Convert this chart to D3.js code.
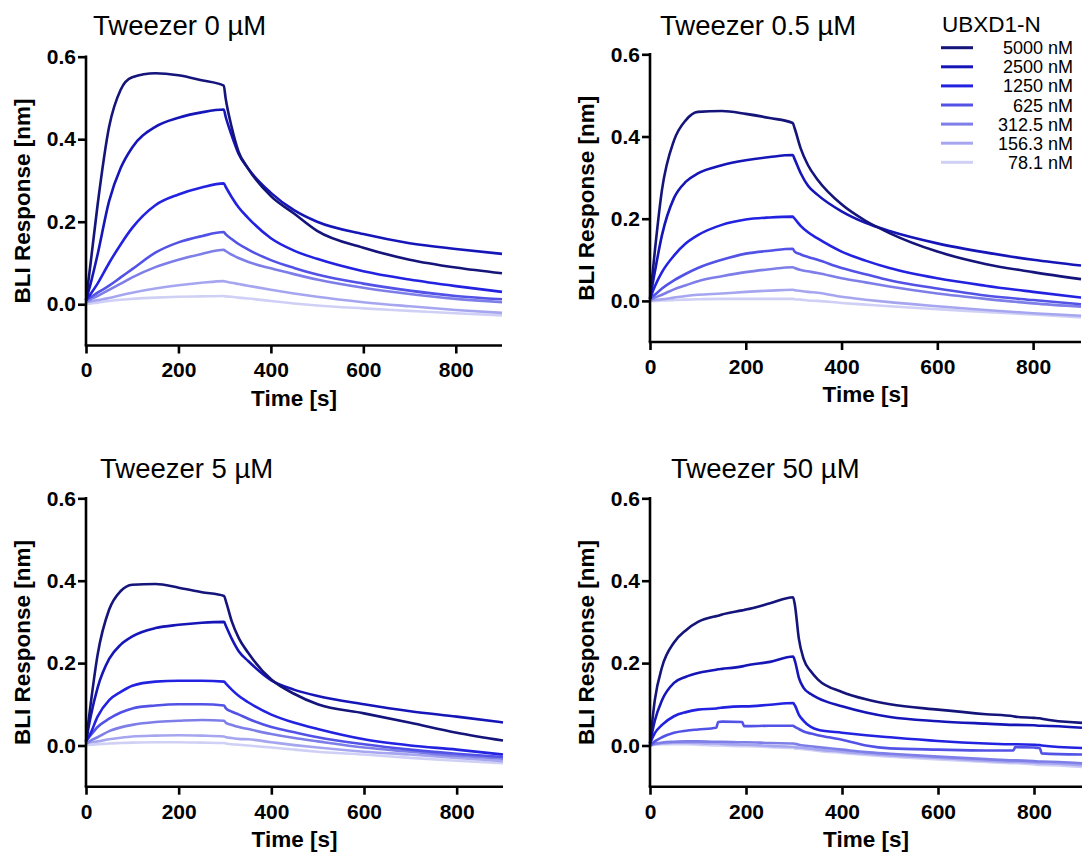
<!DOCTYPE html>
<html>
<head>
  <script src="https://d3js.org/d3.v7.min.js"></script>
  <style>
    body { margin: 0; background: #fff; font-family: "Liberation Sans", Arial, sans-serif; }
    .axis path, .axis line { stroke: #000; stroke-width: 2.6px; }
    .axis text { font-family: "Liberation Sans", Arial, sans-serif; font-size: 21px; font-weight: bold; fill: #000; }
    .axis-title { font-size: 22.5px; font-weight: bold; text-anchor: middle; }
    .panel-title { font-size: 27.5px; }
    .legend-title { font-size: 22.5px; }
    .legend-label { font-size: 18px; text-anchor: end; }
    .trace { fill: none; stroke-width: 2.6px; stroke-linejoin: round; }
  </style>
</head>
<body>
  <div id="chart"></div>
  <script>
    // analyte concentrations (legend) and colours
    const concs = ["5000 nM", "2500 nM", "1250 nM", "625 nM", "312.5 nM", "156.3 nM", "78.1 nM"];
    const colors = ["#14147a", "#1515b8", "#2222e0", "#5252e6", "#7e7ee8", "#a6a6f0", "#d0d0f6"];

    const xTicks = [0, 200, 400, 600, 800];
    const yTicks = [0, 0.2, 0.4, 0.6];

    // sample times [s]
    const times = [0, 10, 25, 50, 75, 100, 150, 200, 250, 298, 302, 315, 330, 350, 400, 450, 500, 600, 700, 800, 900];
    const times50 = [0, 10, 25, 50, 75, 100, 138, 142, 150, 192, 196, 200, 250, 298, 302, 310, 320, 335, 350, 400, 450, 500, 600, 700, 757, 761, 800, 812, 816, 900];

    // Tweezer 0 uM, one row per concentration (same order as concs)
    const tw0 = [
      [0.01, 0.10, 0.24, 0.43, 0.52, 0.55, 0.56, 0.555, 0.543, 0.53, 0.50, 0.43, 0.37, 0.33, 0.262, 0.22, 0.178, 0.137, 0.108, 0.089, 0.075],
      [0.01, 0.05, 0.12, 0.25, 0.33, 0.38, 0.43, 0.452, 0.465, 0.472, 0.455, 0.41, 0.365, 0.33, 0.27, 0.228, 0.2, 0.17, 0.148, 0.134, 0.122],
      [0.01, 0.025, 0.05, 0.10, 0.145, 0.185, 0.24, 0.266, 0.283, 0.293, 0.285, 0.26, 0.235, 0.21, 0.16, 0.13, 0.11, 0.08, 0.06, 0.044, 0.03],
      [0.01, 0.017, 0.028, 0.045, 0.065, 0.085, 0.125, 0.15, 0.165, 0.175, 0.17, 0.158, 0.146, 0.133, 0.107, 0.088, 0.072, 0.05, 0.033, 0.02, 0.012],
      [0.005, 0.012, 0.02, 0.035, 0.05, 0.065, 0.09, 0.108, 0.122, 0.132, 0.129, 0.12, 0.112, 0.103, 0.087, 0.073, 0.06, 0.04, 0.025, 0.013, 0.005],
      [0.005, 0.007, 0.01, 0.015, 0.022, 0.028, 0.038, 0.046, 0.052, 0.056, 0.055, 0.052, 0.049, 0.045, 0.035, 0.026, 0.018, 0.005, -0.005, -0.014, -0.021],
      [0.0, 0.002, 0.004, 0.008, 0.011, 0.013, 0.016, 0.018, 0.019, 0.02, 0.019, 0.018, 0.016, 0.014, 0.008, 0.002, -0.003, -0.01, -0.016, -0.022, -0.027]
    ];

    // Tweezer 0.5 uM
    const tw05 = [
      [0.005, 0.12, 0.27, 0.39, 0.44, 0.46, 0.462, 0.455, 0.445, 0.433, 0.42, 0.37, 0.33, 0.295, 0.235, 0.195, 0.165, 0.12, 0.09, 0.07, 0.053],
      [0.005, 0.07, 0.16, 0.25, 0.29, 0.31, 0.33, 0.342, 0.35, 0.355, 0.345, 0.31, 0.28, 0.258, 0.218, 0.19, 0.17, 0.14, 0.118, 0.1, 0.086],
      [0.005, 0.035, 0.07, 0.11, 0.14, 0.16, 0.185, 0.198, 0.203, 0.205, 0.2, 0.182, 0.167, 0.152, 0.12, 0.098, 0.08, 0.055, 0.037, 0.022, 0.008],
      [0.005, 0.015, 0.03, 0.05, 0.066, 0.08, 0.1, 0.115, 0.122, 0.127, 0.12, 0.113, 0.107, 0.1, 0.08, 0.065, 0.05, 0.03, 0.013, 0.002, -0.008],
      [0.002, 0.008, 0.015, 0.028, 0.038, 0.048, 0.06, 0.07, 0.077, 0.082, 0.08, 0.075, 0.072, 0.068, 0.055, 0.045, 0.035, 0.018, 0.005, -0.006, -0.014],
      [0.0, 0.002, 0.004, 0.008, 0.012, 0.015, 0.018, 0.022, 0.025, 0.027, 0.026, 0.024, 0.022, 0.02, 0.01, 0.003, -0.003, -0.013, -0.022, -0.03, -0.036],
      [0.0, 0.0, 0.001, 0.002, 0.003, 0.004, 0.005, 0.005, 0.005, 0.005, 0.004, 0.003, 0.001, 0.0, -0.005, -0.009, -0.013, -0.02, -0.027, -0.033, -0.04]
    ];

    // Tweezer 5 uM
    const tw5 = [
      [0.01, 0.1, 0.22, 0.33, 0.375, 0.39, 0.392, 0.383, 0.372, 0.363, 0.35, 0.30, 0.26, 0.225, 0.16, 0.125, 0.1, 0.078, 0.055, 0.031, 0.012],
      [0.01, 0.07, 0.14, 0.21, 0.245, 0.265, 0.285, 0.293, 0.298, 0.3, 0.29, 0.258, 0.228, 0.205, 0.158, 0.135, 0.12, 0.1, 0.083, 0.07, 0.056],
      [0.01, 0.03, 0.07, 0.11, 0.13, 0.145, 0.155, 0.157, 0.157, 0.155, 0.15, 0.135, 0.12, 0.105, 0.075, 0.055, 0.04, 0.015, 0.0, -0.01, -0.022],
      [0.01, 0.025, 0.045, 0.065, 0.08, 0.09, 0.097, 0.1, 0.1, 0.097, 0.09, 0.082, 0.075, 0.065, 0.045, 0.032, 0.02, 0.003, -0.01, -0.02, -0.028],
      [0.005, 0.012, 0.02, 0.035, 0.044, 0.05, 0.057, 0.06, 0.062, 0.06, 0.055, 0.05, 0.045, 0.04, 0.028, 0.018, 0.01, -0.005, -0.015, -0.025, -0.032],
      [0.005, 0.008, 0.01, 0.015, 0.019, 0.022, 0.024, 0.025, 0.024, 0.022, 0.02, 0.018, 0.016, 0.015, 0.008, 0.001, -0.005, -0.015, -0.022, -0.03, -0.038],
      [0.0, 0.002, 0.003, 0.005, 0.006, 0.007, 0.008, 0.008, 0.007, 0.006, 0.005, 0.003, 0.002, 0.0, -0.005, -0.01, -0.015, -0.022, -0.03, -0.037, -0.043]
    ];

    // Tweezer 50 uM (sampled on times50)
    const tw50 = [
      [0.005, 0.11, 0.19, 0.25, 0.28, 0.3, 0.314, 0.315, 0.318, 0.328, 0.329, 0.33, 0.345, 0.36, 0.34, 0.26, 0.21, 0.18, 0.16, 0.13, 0.112, 0.1, 0.087, 0.076, 0.071, 0.07, 0.067, 0.066, 0.065, 0.055],
      [0.005, 0.06, 0.11, 0.152, 0.167, 0.176, 0.184, 0.185, 0.186, 0.192, 0.193, 0.194, 0.203, 0.216, 0.205, 0.165, 0.14, 0.125, 0.115, 0.095, 0.08, 0.069, 0.059, 0.053, 0.05, 0.05, 0.049, 0.048, 0.048, 0.043],
      [0.005, 0.03, 0.05, 0.071, 0.081, 0.087, 0.09, 0.091, 0.092, 0.095, 0.095, 0.095, 0.099, 0.103, 0.097, 0.075, 0.06, 0.045, 0.038, 0.031, 0.025, 0.02, 0.011, 0.005, 0.003, 0.003, 0.002, 0.001, 0.0, -0.006],
      [0.0, 0.01, 0.02, 0.031, 0.036, 0.039, 0.043, 0.057, 0.058, 0.057, 0.047, 0.047, 0.048, 0.048, 0.045, 0.04, 0.034, 0.029, 0.025, 0.014, 0.0, -0.007, -0.01, -0.012, -0.012, -0.004, -0.005, -0.006, -0.019, -0.022],
      [0.0, 0.004, 0.007, 0.009, 0.01, 0.01, 0.009, 0.009, 0.009, 0.008, 0.008, 0.008, 0.006, 0.005, 0.004, 0.002, 0.0, -0.002, -0.004, -0.01, -0.016, -0.02, -0.027, -0.033, -0.036, -0.036, -0.038, -0.039, -0.039, -0.043],
      [0.0, 0.003, 0.005, 0.007, 0.007, 0.006, 0.005, 0.005, 0.004, 0.002, 0.002, 0.002, -0.001, -0.003, -0.004, -0.005, -0.006, -0.008, -0.01, -0.015, -0.02, -0.024, -0.03, -0.037, -0.04, -0.04, -0.042, -0.043, -0.043, -0.048],
      [0.0, 0.002, 0.003, 0.003, 0.003, 0.002, 0.0, 0.0, 0.0, -0.002, -0.002, -0.002, -0.004, -0.006, -0.007, -0.008, -0.009, -0.011, -0.013, -0.018, -0.023, -0.027, -0.034, -0.04, -0.043, -0.043, -0.046, -0.047, -0.047, -0.052]
    ];

    const panels = [
      { title: "Tweezer 0 µM",   t: times,   v: tw0,  x0: 86,  x1: 502,  yTop: 56.7,  yBot: 345.5, titleX: 93,  titleY: 35,  yLabX: 22 },
      { title: "Tweezer 0.5 µM", t: times,   v: tw05, x0: 650, x1: 1081, yTop: 54.3,  yBot: 342,   titleX: 660, titleY: 35,  yLabX: 586 },
      { title: "Tweezer 5 µM",   t: times,   v: tw5,  x0: 86,  x1: 503,  yTop: 498.3, yBot: 786.7, titleX: 100, titleY: 478, yLabX: 22 },
      { title: "Tweezer 50 µM",  t: times50, v: tw50, x0: 650, x1: 1082, yTop: 498.3, yBot: 786.7, titleX: 671, titleY: 478, yLabX: 586 }
    ];

    const svg = d3.select("#chart").append("svg")
      .attr("width", 1084)
      .attr("height", 856);

    panels.forEach(p => {
      const x = d3.scaleLinear().domain([0, 900]).range([p.x0, p.x1]);
      const y = d3.scaleLinear().domain([-0.1, 0.6]).range([p.yBot, p.yTop]);
      const g = svg.append("g");

      const line = d3.line()
        .x(d => x(d[0]))
        .y(d => y(d[1]))
        .curve(d3.curveMonotoneX);

      // lightest first so darker traces sit on top
      for (let i = p.v.length - 1; i >= 0; i--) {
        const pts = p.t.map((t, k) => [t, p.v[i][k]]);
        g.append("path")
          .attr("class", "trace")
          .attr("stroke", colors[i])
          .attr("d", line(pts));
      }

      g.append("g")
        .attr("class", "axis")
        .attr("transform", `translate(0,${p.yBot})`)
        .call(d3.axisBottom(x).tickValues(xTicks).tickSize(8).tickSizeOuter(0).tickPadding(9))
        .call(a => a.select(".domain").attr("d", `M${p.x0 - 1.3},0H${p.x1}`));

      g.append("g")
        .attr("class", "axis")
        .attr("transform", `translate(${p.x0},0)`)
        .call(d3.axisLeft(y).tickValues(yTicks).tickFormat(d3.format(".1f")).tickSize(8).tickSizeOuter(0).tickPadding(2))
        .call(a => a.select(".domain").attr("d", `M0,${p.yTop - 1.3}V${p.yBot}`));

      g.append("text")
        .attr("class", "axis-title")
        .attr("x", (p.x0 + p.x1) / 2)
        .attr("y", p.yBot + 60)
        .text("Time [s]");

      g.append("text")
        .attr("class", "axis-title")
        .attr("transform", `translate(${p.yLabX + 8},${(p.yTop + p.yBot) / 2}) rotate(-90)`)
        .text("BLI Response [nm]");

      g.append("text")
        .attr("class", "panel-title")
        .attr("x", p.titleX)
        .attr("y", p.titleY)
        .text(p.title);
    });

    // legend
    const legend = svg.append("g");
    legend.append("text")
      .attr("class", "legend-title")
      .attr("x", 942)
      .attr("y", 32)
      .text("UBXD1-N");

    const rowY = d3.scalePoint().domain(concs).range([47.7, 162.3]);
    concs.forEach((c, i) => {
      legend.append("line")
        .attr("x1", 941).attr("x2", 973)
        .attr("y1", rowY(c)).attr("y2", rowY(c))
        .attr("stroke", colors[i])
        .attr("stroke-width", 3);
      legend.append("text")
        .attr("class", "legend-label")
        .attr("x", 1073)
        .attr("y", rowY(c) + 6.5)
        .text(c);
    });
  </script>
</body>
</html>
